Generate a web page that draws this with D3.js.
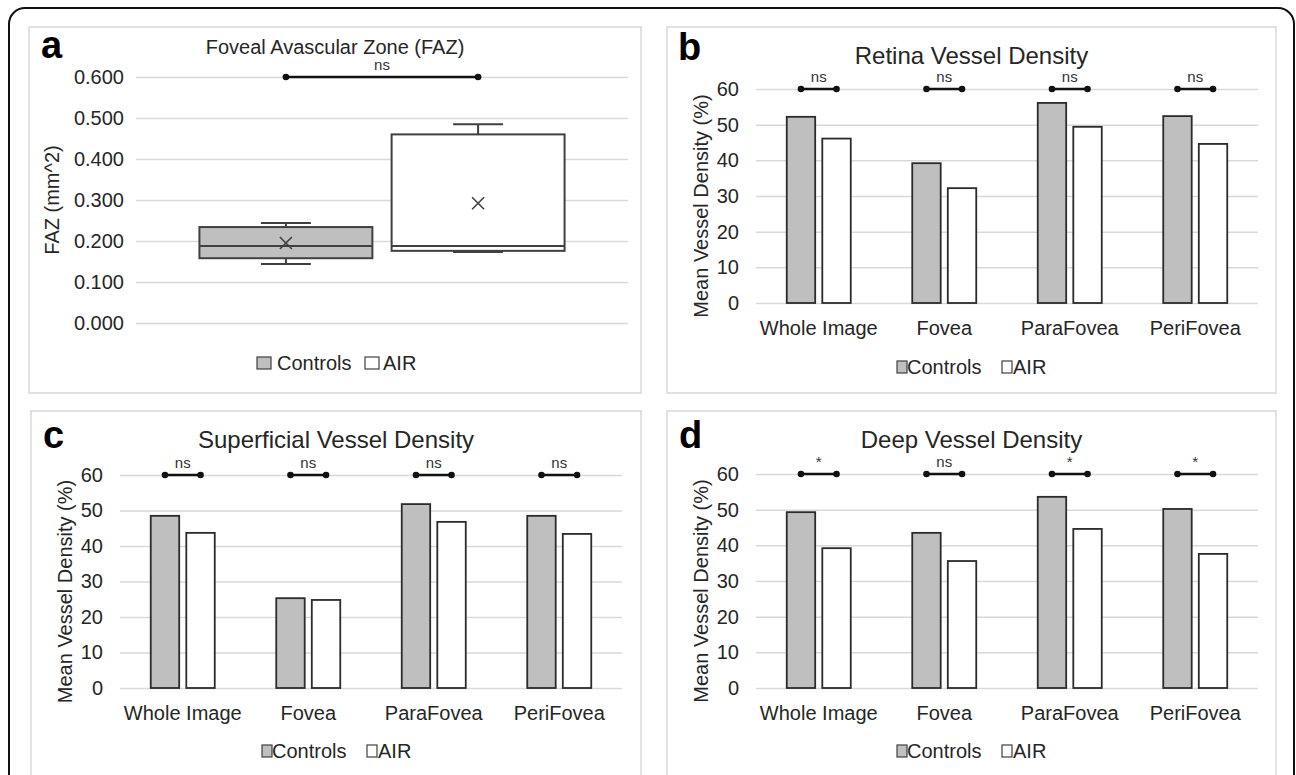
<!DOCTYPE html>
<html>
<head>
<meta charset="utf-8">
<script src="https://cdn.jsdelivr.net/npm/d3@7"></script>
<style>
  body { margin: 0; background: #fff; }
  svg text { font-family: "Liberation Sans", Arial, sans-serif; fill: #262626; }
</style>
</head>
<body>
<div id="chart"></div>
<script>
// values
var categories = ["Whole Image", "Fovea", "ParaFovea", "PeriFovea"];
var series = ["Controls", "AIR"];

var retinaControls = [52.2, 39.2, 56.1, 52.4];
var retinaAIR = [46.1, 32.2, 49.4, 44.6];
var retinaSig = ["ns", "ns", "ns", "ns"];

var superficialControls = [48.5, 25.3, 51.8, 48.5];
var superficialAIR = [43.7, 24.8, 46.8, 43.4];
var superficialSig = ["ns", "ns", "ns", "ns"];

var deepControls = [49.3, 43.5, 53.6, 50.2];
var deepAIR = [39.2, 35.6, 44.6, 37.6];
var deepSig = ["*", "ns", "*", "*"];

var densityTicks = [0, 10, 20, 30, 40, 50, 60];

// box plot stats: min, q1, median, q3, max, mean
var fazControls = [0.144, 0.158, 0.188, 0.234, 0.244, 0.195];
var fazAIR = [0.173, 0.176, 0.188, 0.460, 0.485, 0.292];
var fazSig = "ns";
var fazTicks = [0, 0.1, 0.2, 0.3, 0.4, 0.5, 0.6];

var width = 1296, height = 775;
var fills = { Controls: "#bfbfbf", AIR: "#ffffff" };
var ink = "#2b2b2b";

var svg = d3.select("#chart").append("svg")
    .attr("width", width)
    .attr("height", height);

// outer frame
svg.append("rect")
    .attr("x", 9).attr("y", 8)
    .attr("width", 1285).attr("height", 820)
    .attr("rx", 16)
    .style("fill", "none").style("stroke", "#111").style("stroke-width", 2);

function panelFrame(box, letter, letterPos, title, titleY, titleSize) {
    svg.append("rect")
        .attr("x", box[0]).attr("y", box[1])
        .attr("width", box[2] - box[0]).attr("height", box[3] - box[1])
        .style("fill", "#fff").style("stroke", "#d9d9d9").style("stroke-width", 1.5);
    svg.append("text")
        .attr("x", letterPos[0]).attr("y", letterPos[1])
        .style("font-size", "38px").style("font-weight", "bold").style("fill", "#000")
        .text(letter);
    svg.append("text")
        .attr("x", (box[0] + box[2]) / 2).attr("y", titleY)
        .attr("text-anchor", "middle")
        .style("font-size", titleSize + "px")
        .text(title);
}

function yAxis(g, y, ticks, left, right, pad, fmt) {
    var ax = g.append("g")
        .attr("transform", "translate(" + left + ",0)")
        .call(d3.axisLeft(y).tickValues(ticks).tickSize(-(right - left)).tickPadding(pad).tickFormat(fmt));
    ax.select(".domain").remove();
    ax.selectAll(".tick line").style("stroke", "#d9d9d9").style("stroke-width", 1.5);
    ax.selectAll(".tick text").style("font-size", "20px").style("fill", "#262626")
        .style("font-family", "'Liberation Sans', Arial, sans-serif");
}

function axisTitle(x, y, label) {
    svg.append("text")
        .attr("transform", "translate(" + x + "," + y + ") rotate(-90)")
        .attr("text-anchor", "middle")
        .attr("dy", "0.35em")
        .style("font-size", "20px")
        .text(label);
}

function sigMark(x1, x2, y, label) {
    svg.append("line")
        .attr("x1", x1).attr("x2", x2).attr("y1", y).attr("y2", y)
        .style("stroke", "#111").style("stroke-width", 2.5);
    [x1, x2].forEach(function(x) {
        svg.append("circle").attr("cx", x).attr("cy", y).attr("r", 3.3).style("fill", "#111");
    });
    svg.append("text")
        .attr("x", (x1 + x2) / 2).attr("y", y - 7)
        .attr("text-anchor", "middle")
        .style("font-size", "15px").style("fill", "#333")
        .text(label);
}

function legend(x, y, sq, positions) {
    series.forEach(function(s, i) {
        svg.append("rect")
            .attr("x", x + positions[i][0]).attr("y", y - sq[1] / 2)
            .attr("width", sq[0]).attr("height", sq[1])
            .style("fill", fills[s]).style("stroke", "#404040").style("stroke-width", 1.2);
        svg.append("text")
            .attr("x", x + positions[i][1]).attr("y", y)
            .attr("dy", "0.35em")
            .style("font-size", "20px")
            .text(s);
    });
}

// ---- panel a: box plot ----
(function() {
    var left = 136, right = 628, top = 77, bottom = 323;
    panelFrame([29, 27, 641, 393], "a", [41, 58], "Foveal Avascular Zone (FAZ)", 54, 20);

    var y = d3.scaleLinear().domain([0, 0.6]).range([bottom, top]);
    var x = d3.scaleBand().domain(series).range([left, right])
        .paddingInner(0.1).paddingOuter(0.33);

    yAxis(svg, y, fazTicks, left, right, 12, d3.format(".3f"));
    axisTitle(52, (top + bottom) / 2, "FAZ (mm^2)");

    var stats = { Controls: fazControls, AIR: fazAIR };
    series.forEach(function(s) {
        var v = stats[s];
        var x0 = x(s), bw = x.bandwidth(), cx = x0 + bw / 2, cap = 25;
        var g = svg.append("g").style("stroke", "#404040").style("stroke-width", 2);
        g.append("line").attr("x1", cx).attr("x2", cx).attr("y1", y(v[3])).attr("y2", y(v[4]));
        g.append("line").attr("x1", cx).attr("x2", cx).attr("y1", y(v[1])).attr("y2", y(v[0]));
        g.append("line").attr("x1", cx - cap).attr("x2", cx + cap).attr("y1", y(v[4])).attr("y2", y(v[4]));
        g.append("line").attr("x1", cx - cap).attr("x2", cx + cap).attr("y1", y(v[0])).attr("y2", y(v[0]));
        g.append("rect")
            .attr("x", x0).attr("y", y(v[3]))
            .attr("width", bw).attr("height", y(v[1]) - y(v[3]))
            .style("fill", fills[s]);
        g.append("line").attr("x1", x0).attr("x2", x0 + bw).attr("y1", y(v[2])).attr("y2", y(v[2]));
        var my = y(v[5]), m = 6;
        g.append("path")
            .attr("d", "M" + (cx - m) + "," + (my - m) + "L" + (cx + m) + "," + (my + m) +
                       "M" + (cx + m) + "," + (my - m) + "L" + (cx - m) + "," + (my + m))
            .style("stroke-width", 1.6);
    });

    sigMark(x("Controls") + x.bandwidth() / 2, x("AIR") + x.bandwidth() / 2, y(0.6), fazSig);
    legend(257, 363, [14, 12], [[0, 20], [108, 126]]);
})();

// ---- panels b, c, d: grouped bars ----
function barPanel(cfg) {
    var left = cfg.plot[0], right = cfg.plot[1], top = cfg.plot[2], bottom = cfg.plot[3];
    panelFrame(cfg.box, cfg.letter, cfg.letterPos, cfg.title, cfg.box[1] + 37, 24);

    var y = d3.scaleLinear().domain([0, 60]).range([bottom, top]);
    var x0 = d3.scaleBand().domain(categories).range([left, right])
        .paddingInner(0.49).paddingOuter(0.245);
    var x1 = d3.scaleBand().domain(series).range([0, x0.bandwidth()]).paddingInner(0.2);

    yAxis(svg, y, densityTicks, left, right, 17, d3.format("d"));
    axisTitle(left - 55, (top + bottom) / 2 + 10, "Mean Vessel Density (%)");

    var xa = svg.append("g")
        .attr("transform", "translate(0," + bottom + ")")
        .call(d3.axisBottom(x0).tickSize(0).tickPadding(18));
    xa.select(".domain").remove();
    xa.selectAll(".tick text").style("font-size", "20px").style("fill", "#262626")
        .style("font-family", "'Liberation Sans', Arial, sans-serif");

    var vals = { Controls: cfg.controls, AIR: cfg.air };
    var rows = [];
    categories.forEach(function(c, i) {
        series.forEach(function(s) { rows.push({ cat: c, s: s, v: vals[s][i] }); });
    });

    svg.append("g").selectAll("rect")
        .data(rows)
        .enter().append("rect")
        .attr("x", function(d) { return x0(d.cat) + x1(d.s); })
        .attr("y", function(d) { return y(d.v); })
        .attr("width", x1.bandwidth())
        .attr("height", function(d) { return bottom - y(d.v); })
        .style("fill", function(d) { return fills[d.s]; })
        .style("stroke", ink)
        .style("stroke-width", 1.8);

    categories.forEach(function(c, i) {
        var a = x0(c) + x1("Controls") + x1.bandwidth() / 2;
        var b = x0(c) + x1("AIR") + x1.bandwidth() / 2;
        sigMark(a, b, y(60), cfg.sig[i]);
    });

    legend(cfg.legend[0], cfg.legend[1], [10, 12], [[0, 10], [105, 116]]);
}

barPanel({
    box: [667, 27, 1276, 393], plot: [756, 1258, 89, 303],
    letter: "b", letterPos: [678, 60], title: "Retina Vessel Density",
    controls: retinaControls, air: retinaAIR, sig: retinaSig,
    legend: [897, 367]
});

barPanel({
    box: [31, 411, 641, 840], plot: [120, 622, 475, 688],
    letter: "c", letterPos: [43, 448], title: "Superficial Vessel Density",
    controls: superficialControls, air: superficialAIR, sig: superficialSig,
    legend: [262, 751]
});

barPanel({
    box: [667, 411, 1276, 840], plot: [756, 1258, 474, 688],
    letter: "d", letterPos: [679, 448], title: "Deep Vessel Density",
    controls: deepControls, air: deepAIR, sig: deepSig,
    legend: [897, 751]
});
</script>
</body>
</html>
